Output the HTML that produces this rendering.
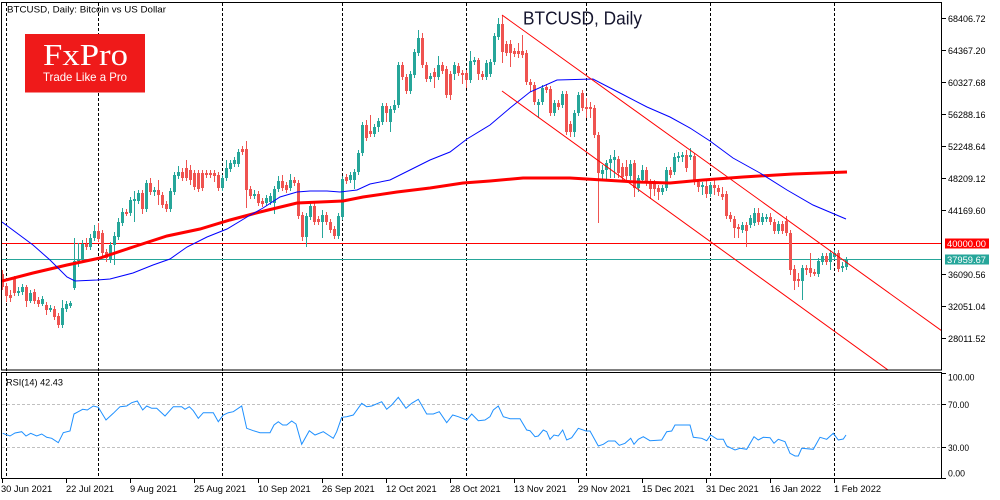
<!DOCTYPE html>
<html><head><meta charset="utf-8"><style>
html,body{margin:0;padding:0;background:#fff;}
svg{display:block;font-family:"Liberation Sans",sans-serif;}
</style></head><body>
<svg width="1000" height="500" viewBox="0 0 1000 500" xmlns="http://www.w3.org/2000/svg">
<rect width="1000" height="500" fill="#fff"/>
<defs><clipPath id="cp"><rect x="2" y="3" width="939.5" height="366.5"/></clipPath>
<clipPath id="cr"><rect x="2" y="373" width="939.5" height="105.5"/></clipPath></defs>

<!-- vertical grid -->
<g stroke="#000" stroke-width="1" stroke-dasharray="3,2" fill="none">
<path d="M6.5 3V479M98.5 3V479M222.5 3V479M342.5 3V479M466.5 3V479M586.5 3V479M710.5 3V479M834.5 3V479"/>
</g>
<!-- RSI level lines -->
<g stroke="#c0c0c0" stroke-width="1" stroke-dasharray="3,2">
<path d="M2 404.5H941M2 447.5H941"/>
</g>

<!-- logo -->
<rect x="25" y="34" width="120" height="58.5" fill="#ef1a1a"/>
<text x="43" y="65" font-family="Liberation Serif,serif" font-size="31" fill="#fff" textLength="85" lengthAdjust="spacingAndGlyphs">FxPro</text>
<text x="43" y="81" font-size="12" fill="#fff" textLength="84" lengthAdjust="spacingAndGlyphs">Trade Like a Pro</text>

<g clip-path="url(#cp)">
<!-- level lines -->
<path d="M2 243.5H942" stroke="#ff0000" stroke-width="1"/>
<path d="M2 259.5H942" stroke="#26a69a" stroke-width="1"/>

<!-- candles -->
<g shape-rendering="crispEdges">
<path fill="none" stroke="#26a69a" stroke-width="1" d="M18.5 287V296M22.5 284V295M30.5 290V303M42.5 296V306M50.5 305V312M62.5 300V328M66.5 301V312M70.5 301V308M74.5 238V290M78.5 243V267M82.5 240V263M90.5 234V250M94.5 225V241M110.5 242V263M114.5 232V265M118.5 218V240M122.5 208V226M130.5 197V216M134.5 191V222M138.5 190V204M146.5 180V212M154.5 187V196M170.5 188V212M174.5 172V195M178.5 166V179M222.5 175V191M226.5 160V181M230.5 160V172M234.5 157V167M238.5 149V167M254.5 190V199M266.5 195V206M270.5 193V205M274.5 186V214M278.5 176V192M290.5 174V191M306.5 213V247M310.5 203V220M322.5 210V238M338.5 213V239M342.5 176V220M350.5 172V183M354.5 169V189M358.5 150V175M362.5 122V156M374.5 124V137M378.5 118V132M382.5 103V125M390.5 106V132M394.5 100V113M398.5 62V108M410.5 71V94M414.5 49V78M418.5 30V56M430.5 73V82M438.5 56V80M454.5 62V80M470.5 51V83M474.5 57V65M486.5 60V80M490.5 59V77M494.5 33V65M498.5 18V40M538.5 99V118M542.5 85V105M554.5 100V116M562.5 91V108M574.5 110V137M578.5 92V116M602.5 165V180M606.5 160V180M610.5 155V178M614.5 150V178M630.5 160V180M638.5 175V192M642.5 165V183M662.5 185V195M666.5 167V191M674.5 153V175M678.5 152V162M682.5 152V162M690.5 148V160M702.5 182V195M710.5 182V197M742.5 222V233M750.5 215V228M754.5 208V226M762.5 213V225M766.5 214V222M778.5 221V234M802.5 265V300M818.5 258V277M822.5 253V265M830.5 250V270M834.5 250V260M842.5 262V272M846.5 257V270"/>
<path fill="#26a69a" d="M17 291h3V293h-3zM21 287h3V292h-3zM29 293h3V301h-3zM41 299h3V304h-3zM49 308h3V310h-3zM61 308h3V325h-3zM65 304h3V309h-3zM69 303h3V306h-3zM73 261h3V288h-3zM77 259h3V261h-3zM81 244h3V260h-3zM89 238h3V247h-3zM93 231h3V238h-3zM109 245h3V259h-3zM113 236h3V245h-3zM117 222h3V237h-3zM121 212h3V223h-3zM129 200h3V213h-3zM133 199h3V201h-3zM137 193h3V201h-3zM145 183h3V209h-3zM153 190h3V192h-3zM169 191h3V209h-3zM173 175h3V192h-3zM177 172h3V176h-3zM221 178h3V188h-3zM225 168h3V178h-3zM229 163h3V169h-3zM233 160h3V164h-3zM237 152h3V164h-3zM253 194h3V196h-3zM265 198h3V203h-3zM269 196h3V202h-3zM273 189h3V203h-3zM277 181h3V189h-3zM289 180h3V188h-3zM305 216h3V237h-3zM309 206h3V217h-3zM321 215h3V222h-3zM337 216h3V236h-3zM341 179h3V217h-3zM349 175h3V180h-3zM353 172h3V180h-3zM357 153h3V172h-3zM361 125h3V153h-3zM373 127h3V134h-3zM377 121h3V127h-3zM381 106h3V122h-3zM389 109h3V122h-3zM393 105h3V110h-3zM397 65h3V105h-3zM409 74h3V91h-3zM413 52h3V75h-3zM417 38h3V53h-3zM429 76h3V79h-3zM437 65h3V77h-3zM453 65h3V74h-3zM469 61h3V80h-3zM473 60h3V62h-3zM485 63h3V77h-3zM489 62h3V74h-3zM493 36h3V62h-3zM497 24h3V37h-3zM537 102h3V105h-3zM541 88h3V102h-3zM553 103h3V113h-3zM561 94h3V105h-3zM573 113h3V132h-3zM577 95h3V113h-3zM601 170h3V174h-3zM605 163h3V170h-3zM609 159h3V163h-3zM613 157h3V160h-3zM629 164h3V176h-3zM637 178h3V188h-3zM641 170h3V180h-3zM661 188h3V192h-3zM665 170h3V188h-3zM673 157h3V172h-3zM677 156h3V158h-3zM681 155h3V157h-3zM689 155h3V157h-3zM701 185h3V187h-3zM709 185h3V194h-3zM741 225h3V230h-3zM749 218h3V225h-3zM753 213h3V223h-3zM761 217h3V222h-3zM765 217h3V219h-3zM777 224h3V231h-3zM801 268h3V281h-3zM817 261h3V274h-3zM821 256h3V262h-3zM829 253h3V262h-3zM833 253h3V257h-3zM841 266h3V268h-3zM845 259h3V267h-3z"/>
<path fill="none" stroke="#ef5350" stroke-width="1" d="M2.5 270V290M6.5 283V302M10.5 290V302M14.5 276V296M26.5 285V307M34.5 289V304M38.5 297V307M46.5 302V315M54.5 306V320M58.5 313V328M86.5 238V250M98.5 223V242M102.5 230V256M106.5 249V262M126.5 209V216M142.5 190V214M150.5 178V195M158.5 180V205M162.5 192V208M166.5 201V212M182.5 168V181M186.5 160V181M190.5 165V185M194.5 170V190M198.5 170V192M202.5 170V191M206.5 170V178M210.5 170V178M214.5 170V182M218.5 172V191M242.5 146V155M246.5 141V208M250.5 186V199M258.5 191V206M262.5 198V207M282.5 175V191M286.5 182V193M294.5 177V186M298.5 180V219M302.5 212V241M314.5 203V225M318.5 216V225M326.5 212V225M330.5 219V233M334.5 226V239M346.5 174V184M366.5 120V141M370.5 115V137M386.5 103V122M402.5 62V80M406.5 74V94M422.5 33V68M426.5 62V82M434.5 68V88M442.5 62V74M446.5 66V98M450.5 71V100M458.5 63V76M462.5 70V84M466.5 70V88M478.5 58V80M482.5 71V80M502.5 15V63M506.5 41V56M510.5 40V67M514.5 48V57M518.5 43V58M522.5 35V58M526.5 50V85M530.5 79V92M534.5 82V105M546.5 84V93M550.5 86V116M558.5 100V110M566.5 91V135M570.5 121V137M582.5 90V111M586.5 98V118M590.5 102V118M594.5 105V138M598.5 132V223M618.5 156V178M622.5 163V182M626.5 160V180M634.5 160V197M646.5 167V186M650.5 179V199M654.5 180V196M658.5 185V200M670.5 167V178M686.5 150V172M694.5 153V185M698.5 179V192M706.5 180V198M714.5 180V195M718.5 185V196M722.5 187V200M726.5 191V219M730.5 212V222M734.5 216V238M738.5 224V238M746.5 222V247M758.5 208V225M770.5 213V225M774.5 219V234M782.5 221V234M786.5 216V236M790.5 230V275M794.5 265V290M798.5 273V287M806.5 265V275M810.5 253V277M814.5 269V276M826.5 253V265M838.5 250V272"/>
<path fill="#ef5350" d="M1 274h3V287h-3zM5 286h3V296h-3zM9 295h3V298h-3zM13 279h3V293h-3zM25 287h3V301h-3zM33 292h3V301h-3zM37 300h3V304h-3zM45 305h3V310h-3zM53 309h3V317h-3zM57 316h3V325h-3zM85 244h3V247h-3zM97 231h3V239h-3zM101 233h3V253h-3zM105 252h3V258h-3zM125 212h3V214h-3zM141 193h3V209h-3zM149 183h3V192h-3zM157 190h3V195h-3zM161 195h3V205h-3zM165 204h3V209h-3zM181 172h3V178h-3zM185 168h3V178h-3zM189 170h3V180h-3zM193 173h3V187h-3zM197 173h3V189h-3zM201 173h3V188h-3zM205 173h3V175h-3zM209 173h3V175h-3zM213 173h3V176h-3zM217 175h3V188h-3zM241 149h3V152h-3zM245 149h3V190h-3zM249 189h3V196h-3zM257 194h3V203h-3zM261 201h3V204h-3zM281 181h3V188h-3zM285 185h3V190h-3zM293 180h3V183h-3zM297 183h3V216h-3zM301 215h3V237h-3zM313 206h3V222h-3zM317 219h3V222h-3zM325 215h3V222h-3zM329 222h3V230h-3zM333 229h3V236h-3zM345 177h3V181h-3zM365 125h3V138h-3zM369 131h3V134h-3zM385 106h3V113h-3zM401 65h3V77h-3zM405 77h3V91h-3zM421 38h3V65h-3zM425 65h3V79h-3zM433 72h3V77h-3zM441 65h3V71h-3zM445 69h3V95h-3zM449 74h3V95h-3zM457 66h3V73h-3zM461 73h3V75h-3zM465 73h3V80h-3zM477 60h3V74h-3zM481 74h3V77h-3zM501 24h3V52h-3zM505 44h3V53h-3zM509 44h3V53h-3zM513 51h3V54h-3zM517 51h3V54h-3zM521 51h3V55h-3zM525 53h3V82h-3zM529 82h3V85h-3zM533 85h3V102h-3zM545 87h3V90h-3zM549 89h3V113h-3zM557 103h3V107h-3zM565 94h3V132h-3zM569 124h3V132h-3zM581 93h3V108h-3zM585 107h3V109h-3zM589 107h3V109h-3zM593 108h3V135h-3zM597 135h3V173h-3zM617 159h3V173h-3zM621 167h3V177h-3zM625 167h3V176h-3zM633 163h3V188h-3zM645 170h3V182h-3zM649 182h3V189h-3zM653 184h3V189h-3zM657 188h3V192h-3zM669 170h3V175h-3zM685 155h3V168h-3zM693 156h3V182h-3zM697 182h3V187h-3zM705 186h3V194h-3zM713 185h3V188h-3zM717 188h3V192h-3zM721 194h3V197h-3zM725 194h3V216h-3zM729 215h3V219h-3zM733 219h3V228h-3zM737 227h3V229h-3zM745 225h3V231h-3zM757 213h3V222h-3zM769 217h3V222h-3zM773 222h3V231h-3zM781 224h3V231h-3zM785 221h3V233h-3zM789 233h3V270h-3zM793 269h3V281h-3zM797 279h3V281h-3zM805 268h3V270h-3zM809 268h3V273h-3zM813 272h3V274h-3zM825 256h3V262h-3zM837 253h3V269h-3z"/>
</g>

<!-- MA200 -->
<polyline fill="none" stroke="#ff0000" stroke-width="3" points="2,281 33,273 67,265 100,258 133,247 167,236 200,229 230,220 260,212 297,203 343,201 363,197 397,192 430,188 463,183 490,181 523,178 570,178 603,180 637,182 670,183 703,180 743,177 793,174 847,172"/>
<!-- MA50 -->
<polyline fill="none" stroke="#0000ff" stroke-width="1" points="2,222 33,245 50,260 67,277 75,281 97,280 110,279 133,273 153,265 170,259 187,247 207,237 227,229 247,217 263,208 280,197 297,192 310,191 327,191 340,192 357,190 370,184 390,180 410,170 430,160 450,152 467,139 490,125 510,108 530,92 557,80 593,79 620,93 647,107 670,117 690,128 710,141 733,158 760,173 787,190 813,205 846,219"/>
<!-- channel -->
<path d="M502 15L942 331M502 91L888 370" stroke="#ff0000" stroke-width="1" fill="none"/>
</g>

<!-- RSI line -->
<g clip-path="url(#cr)">
<polyline fill="none" stroke="#1e90ff" stroke-width="1" points="2.7,433.3 10,436 15,433 21.7,431.7 26,436 30.7,433.3 36.7,436 41.7,434 46.7,437.3 51.7,438.3 58.3,442.7 63.3,432.7 70,431 74,414 78.3,411.7 82.7,409.3 87.3,410 93.3,406 98.3,407.3 106,420 113.3,413.3 120,406.7 126.7,406 131.7,402.7 137.3,401 142.7,410 146.7,406 151.7,408.3 156.7,408.3 165,416 173.3,406.7 181.7,406.7 185,409.3 189.3,406.7 193.3,410.7 198.3,418.3 203.3,412.7 213.3,412.7 218.3,421.7 223.3,415 228.3,412.7 233.3,411.7 241.7,406 246.7,428.3 253.3,430.7 260,432.7 270,432.7 274,425 278.3,421.7 282.7,425 286.7,425 291.7,421 296,424 301.7,444.3 309.3,430.7 315,435 323.3,431.7 328.3,435 333.3,438.3 336.7,431.7 341.7,417.3 346.7,416.7 353.3,415 361.7,403.3 366.7,406.7 371.7,406 381.7,401.7 386.7,409.3 391.7,405 398.3,397.3 406,408.3 411.7,403.3 418.3,399.3 426.7,414 433.3,414 439.3,411.7 446.7,422.7 452.7,415 458.3,416.7 466.7,420 471.7,414 478.3,420.7 485,420 490,416.7 493.3,410 498.3,406 503.3,416.7 510,418.7 520,418.7 526.7,430 530,430.7 535,436.7 538.3,436 543.3,430 546.7,431.7 550,439.3 554,435 558.3,436 562.7,430 566.7,440 571.7,437.7 578.3,428.3 586,431 590,431 598.3,446 603.3,444.3 608.3,441 615,441 619.3,445.3 625,443.3 630.7,438.3 634,444.3 638.3,439.3 643.3,436.7 650,440.7 661.7,440 666.7,431.7 671.7,431 675,425 690,425 693.3,437.3 701.7,438.3 706.7,440.7 710.7,435 717.3,439.3 723.3,439.3 726.7,446 735,450 740,448.3 746.7,449.3 754,436.7 758.3,440 763.3,437.3 770,437.7 774,443.3 778.3,439.3 785,441.7 790,453.3 795,456 798.3,456 801.7,448.3 813.3,449.3 820,437.3 826.7,439.3 833.3,433.3 838.3,440 843.3,439 846,435"/>
</g>

<!-- frames -->
<g fill="none" stroke="#000" stroke-width="1" shape-rendering="crispEdges">
<rect x="1.5" y="2.5" width="940" height="367.5"/>
<rect x="1.5" y="372.5" width="940" height="106"/>
<!-- price ticks -->
<path d="M942 18.5h4M942 50.5h4M942 82.5h4M942 114.5h4M942 146.5h4M942 178.5h4M942 210.5h4M942 274.5h4M942 306.5h4M942 338.5h4"/>
<path d="M942 373.5h4M942 404.5h4M942 447.5h4M942 478.5h4"/>
<!-- date ticks -->
<path d="M2.5 479v4M66.5 479v4M130.5 479v4M194.5 479v4M258.5 479v4M322.5 479v4M386.5 479v4M450.5 479v4M514.5 479v4M578.5 479v4M642.5 479v4M706.5 479v4M770.5 479v4M834.5 479v4"/>
</g>

<!-- texts -->
<text x="7" y="12.5" font-size="9.6" fill="#000" textLength="159" lengthAdjust="spacingAndGlyphs">BTCUSD, Daily:  Bitcoin vs US Dollar</text>
<text x="523" y="24.3" font-size="18" fill="#15152e" textLength="119" lengthAdjust="spacingAndGlyphs">BTCUSD, Daily</text>
<text x="6" y="385.5" font-size="9.5" fill="#000" textLength="57" lengthAdjust="spacingAndGlyphs">RSI(14) 42.43</text>

<g font-size="9.5" fill="#000">
<text x="948" y="21.8" textLength="37.5" lengthAdjust="spacingAndGlyphs">68406.72</text>
<text x="948" y="53.8" textLength="37.5" lengthAdjust="spacingAndGlyphs">64367.20</text>
<text x="948" y="85.8" textLength="37.5" lengthAdjust="spacingAndGlyphs">60327.68</text>
<text x="948" y="117.8" textLength="37.5" lengthAdjust="spacingAndGlyphs">56288.16</text>
<text x="948" y="149.8" textLength="37.5" lengthAdjust="spacingAndGlyphs">52248.64</text>
<text x="948" y="181.8" textLength="37.5" lengthAdjust="spacingAndGlyphs">48209.12</text>
<text x="948" y="213.8" textLength="37.5" lengthAdjust="spacingAndGlyphs">44169.60</text>
<text x="948" y="277.8" textLength="37.5" lengthAdjust="spacingAndGlyphs">36090.56</text>
<text x="948" y="309.8" textLength="37.5" lengthAdjust="spacingAndGlyphs">32051.04</text>
<text x="948" y="341.8" textLength="37.5" lengthAdjust="spacingAndGlyphs">28011.52</text>
<text x="948" y="380.5" textLength="26.5" lengthAdjust="spacingAndGlyphs">100.00</text>
<text x="948" y="407.8" textLength="21" lengthAdjust="spacingAndGlyphs">70.00</text>
<text x="948" y="450.8" textLength="21" lengthAdjust="spacingAndGlyphs">30.00</text>
<text x="948" y="476.5" textLength="17" lengthAdjust="spacingAndGlyphs">0.00</text>
</g>

<!-- price tags -->
<rect x="945" y="238.5" width="44" height="10" fill="#ff0000"/>
<text x="947" y="247" font-size="9.5" fill="#fff" textLength="39" lengthAdjust="spacingAndGlyphs">40000.00</text>
<rect x="945" y="254.5" width="44" height="10" fill="#26a69a"/>
<text x="947" y="263" font-size="9.5" fill="#fff" textLength="39" lengthAdjust="spacingAndGlyphs">37959.67</text>

<!-- dates -->
<g font-size="9.3" fill="#000">
<text x="1" y="492">30 Jun 2021</text>
<text x="66" y="492">22 Jul 2021</text>
<text x="130" y="492">9 Aug 2021</text>
<text x="194" y="492">25 Aug 2021</text>
<text x="258" y="492">10 Sep 2021</text>
<text x="322" y="492">26 Sep 2021</text>
<text x="386" y="492">12 Oct 2021</text>
<text x="450" y="492">28 Oct 2021</text>
<text x="514" y="492">13 Nov 2021</text>
<text x="578" y="492">29 Nov 2021</text>
<text x="642" y="492">15 Dec 2021</text>
<text x="706" y="492">31 Dec 2021</text>
<text x="770" y="492">16 Jan 2022</text>
<text x="834" y="492">1 Feb 2022</text>
</g>
</svg>
</body></html>
